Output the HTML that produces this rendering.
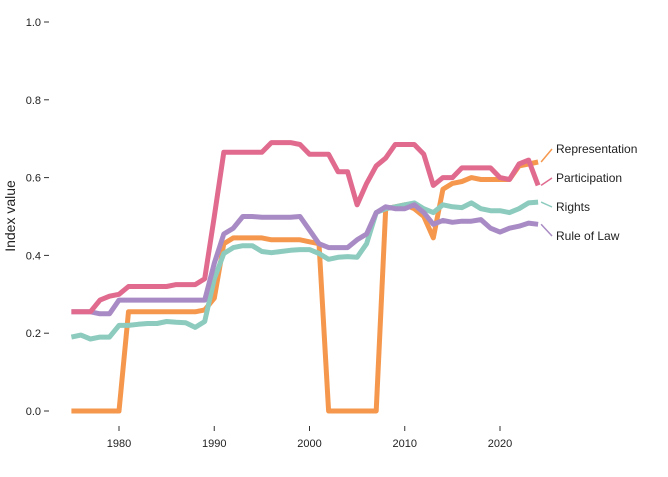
<!DOCTYPE html>
<html><head><meta charset="utf-8"><style>
body{margin:0;background:#fff;font-family:"Liberation Sans",Arial,sans-serif}
svg text{font-family:"Liberation Sans",Arial,sans-serif}
</style></head><body>
<svg id="chart" width="668" height="472" xmlns="http://www.w3.org/2000/svg">
<g id="yaxis"></g>
<g id="xaxis"></g>
<text transform="translate(15,216) rotate(-90)" text-anchor="middle" font-size="14" fill="#222">Index value</text>
<g id="lines"></g>
<g id="labels"></g>
</svg>
<script>
const years = [];
for (let y = 1975; y <= 2024; y++) years.push(y);
const participation = [0.255,0.255,0.255,0.285,0.295,0.30,0.32,0.32,0.32,0.32,0.32,0.325,0.325,0.325,0.34,0.50,0.665,0.665,0.665,0.665,0.665,0.69,0.69,0.69,0.685,0.66,0.66,0.66,0.615,0.615,0.53,0.585,0.63,0.65,0.685,0.685,0.685,0.66,0.58,0.60,0.60,0.625,0.625,0.625,0.625,0.60,0.595,0.635,0.645,0.58];
const representation = [0,0,0,0,0,0,0.255,0.255,0.255,0.255,0.255,0.255,0.255,0.255,0.26,0.29,0.43,0.445,0.445,0.445,0.445,0.44,0.44,0.44,0.44,0.435,0.43,0,0,0,0,0,0,0.52,0.525,0.53,0.52,0.50,0.445,0.57,0.585,0.59,0.60,0.595,0.595,0.595,0.595,0.63,0.635,0.64];
const rights = [0.19,0.195,0.185,0.19,0.19,0.22,0.22,0.223,0.225,0.225,0.23,0.228,0.227,0.215,0.23,0.34,0.405,0.42,0.425,0.425,0.41,0.407,0.41,0.413,0.415,0.415,0.405,0.39,0.395,0.397,0.395,0.43,0.51,0.52,0.525,0.53,0.535,0.52,0.51,0.53,0.525,0.523,0.535,0.52,0.515,0.515,0.51,0.52,0.535,0.537];
const ruleOfLaw = [0.255,0.255,0.255,0.25,0.25,0.285,0.285,0.285,0.285,0.285,0.285,0.285,0.285,0.285,0.285,0.38,0.455,0.47,0.50,0.50,0.498,0.498,0.498,0.498,0.50,0.465,0.43,0.42,0.42,0.42,0.44,0.455,0.51,0.525,0.52,0.52,0.53,0.51,0.48,0.49,0.485,0.488,0.488,0.492,0.47,0.46,0.47,0.475,0.483,0.48];
const yTicks = [0,0.2,0.4,0.6,0.8,1.0];
const yTickLabels = ["0.0","0.2","0.4","0.6","0.8","1.0"];
const xTicks = [1980,1990,2000,2010,2020];
const seriesNames = ["Representation","Participation","Rights","Rule of Law"];

const NS = "http://www.w3.org/2000/svg";
const X = yr => 119 + (yr - 1980) * 9.525;
const Y = v => 411 - v * 389;
function mk(tag, attrs, parent){const e=document.createElementNS(NS,tag);for(const k in attrs)e.setAttribute(k,attrs[k]);parent.appendChild(e);return e;}

const ya = document.getElementById('yaxis');
yTicks.forEach((t,i)=>{
  const l = mk('line',{x1:44,x2:49,y1:Y(t),y2:Y(t),stroke:'#333'},ya);
  
  
  const tx = mk('text',{x:41,y:Y(t)+4,'text-anchor':'end','font-size':11,fill:'#222'},ya);
  tx.textContent = yTickLabels[i];
  
  
});
const xa = document.getElementById('xaxis');
xTicks.forEach(t=>{
  const l = mk('line',{x1:X(t),x2:X(t),y1:426,y2:431,stroke:'#333'},xa);
  
  
  const tx = mk('text',{x:X(t),y:447,'text-anchor':'middle','font-size':11,fill:'#222'},xa);
  tx.textContent = t;
  
  
});

const series = [
  {name:seriesNames[0], data:representation, color:'#f5984e', ly:149},
  {name:seriesNames[1], data:participation, color:'#e06b8f', ly:178},
  {name:seriesNames[2], data:rights, color:'#8ccbbe', ly:207},
  {name:seriesNames[3], data:ruleOfLaw, color:'#a88bc4', ly:236}
];
const lg = document.getElementById('lines');
const lb = document.getElementById('labels');
const drawOrder = [0,2,3,1];
drawOrder.forEach(i=>{
  const s = series[i];
  const d = s.data.map((v,j)=>(j?'L':'M')+X(years[j]).toFixed(1)+','+Y(v).toFixed(1)).join(' ');
  const p = mk('path',{d:d,fill:'none',stroke:s.color,'stroke-width':5,'stroke-linejoin':'round'},lg);
  
  
});
series.forEach(s=>{
  const last = s.data[s.data.length-1];
  const ex = X(years[years.length-1]);
  const c = mk('line',{x1:ex+3,y1:Y(last),x2:552,y2:s.ly,stroke:s.color,'stroke-width':1.5},lb);
  
  
  const t = mk('text',{x:556,y:s.ly+4,'font-size':12,fill:'#222'},lb);
  t.textContent = s.name;
  
  
});
</script>
</body></html>
